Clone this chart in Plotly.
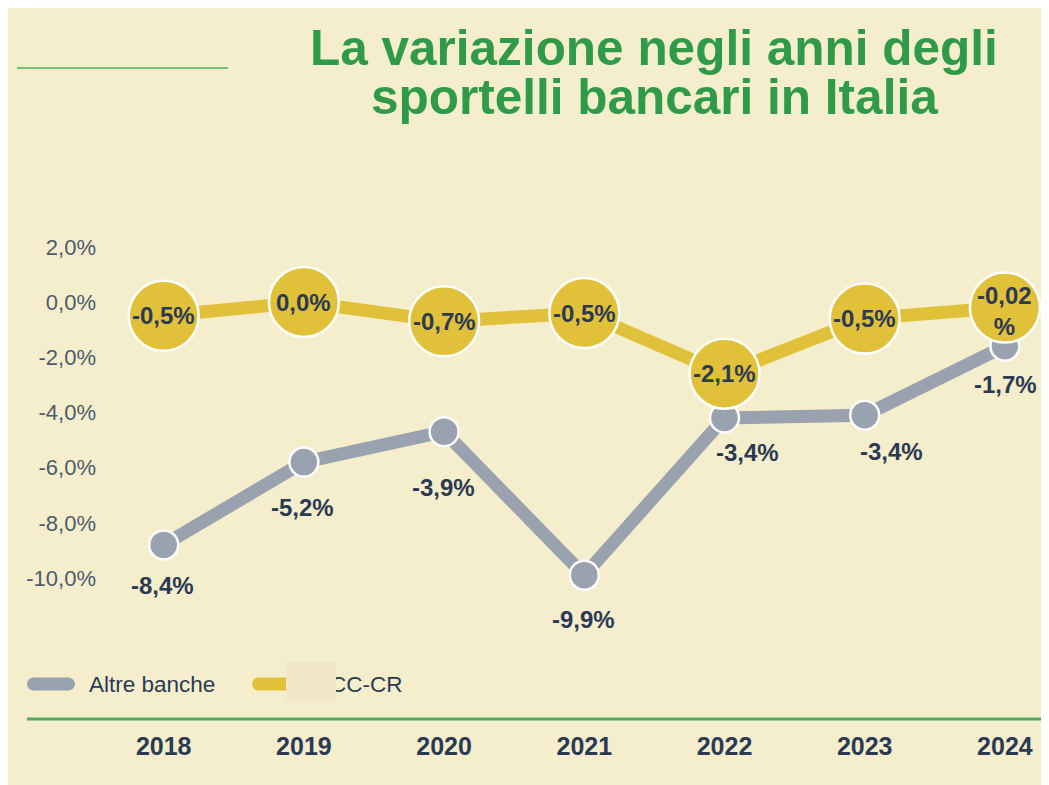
import plotly.graph_objects as go

# ---------------- data ----------------
years = ["2018", "2019", "2020", "2021", "2022", "2023", "2024"]
series_names = ["Altre banche", "BCC-CR"]
# plotted positions
altre_values = [-8.8, -5.8, -4.7, -9.9, -4.2, -4.1, -1.6]
bcc_values = [-0.5, 0.0, -0.7, -0.4, -2.6, -0.6, -0.2]
# printed data labels
altre_labels = ["-8,4%", "-5,2%", "-3,9%", "-9,9%", "-3,4%", "-3,4%", "-1,7%"]
bcc_labels = ["-0,5%", "0,0%", "-0,7%", "-0,5%", "-2,1%", "-0,5%", "-0,02%"]
y_ticks = [2, 0, -2, -4, -6, -8, -10]
title_lines = ["La variazione negli anni degli", "sportelli bancari in Italia"]

# ---------------- styling ----------------
FONT = "Liberation Sans, Arial, Helvetica, sans-serif"
CREAM = "#F5EECD"
GREEN = "#2F9A47"
NAVY = "#2B3A52"
GRAY = "#9AA1AF"
YELLOW = "#E1C03A"
# label offsets (px) for the grey series labels: (dx, dy downwards)
altre_label_offsets = [(-1, 41), (-1, 45), (-1, 56), (-1, 44), (23, 35), (27, 36), (1, 38)]

W_FIG, H_FIG = 1060, 795
OFF = 8                               # page body margin
# plot area in screenshot coordinates
L, R, T, B = 110, 1049, 200, 719
PW, PH = R - L, B - T
Y0_PX, Y_PER = 302.0, 27.6            # pixel of 0% and pixels per 1%
X0_PX, X_STEP = 163.7, 140.2          # pixel of first category and step


def px(x):
    return (x - L) / PW


def py(y):
    return (B - y) / PH


fig = go.Figure()

fig.add_trace(go.Scatter(
    x=years, y=altre_values, mode="lines+markers", name=series_names[0],
    line=dict(color=GRAY, width=13),
    marker=dict(size=29, color=GRAY, line=dict(color="white", width=2.5)),
    hoverinfo="skip", cliponaxis=False,
))
fig.add_trace(go.Scatter(
    x=years, y=bcc_values, mode="lines+markers", name=series_names[1],
    line=dict(color=YELLOW, width=13),
    marker=dict(size=70, color=YELLOW, line=dict(color="white", width=2.5)),
    hoverinfo="skip", cliponaxis=False,
))

annotations = []
# grey labels below markers
for i, (v, lab, (dx, dy)) in enumerate(zip(altre_values, altre_labels, altre_label_offsets)):
    annotations.append(dict(
        x=i, y=v, xref="x", yref="y", text=f"<b>{lab}</b>", showarrow=False,
        xshift=dx, yshift=-dy, font=dict(family=FONT, size=24, color=NAVY),
    ))
# yellow labels inside circles (long labels wrap before the % sign)
for i, (v, lab) in enumerate(zip(bcc_values, bcc_labels)):
    if len(lab) > 5:
        txt, sh = f"<b>{lab[:-1]}<br>{lab[-1:]}</b>", -3
    else:
        txt, sh = f"<b>{lab}</b>", 0
    annotations.append(dict(
        x=i, y=v, xref="x", yref="y", text=txt, showarrow=False,
        yshift=sh, font=dict(family=FONT, size=24, color=NAVY),
    ))

# title: two lines, 50 px apart
for i, line in enumerate(title_lines):
    annotations.append(dict(
        x=px(654), y=py(47 + 50 * i), xref="paper", yref="paper",
        text=f"<b>{line}</b>", showarrow=False, xanchor="center", yanchor="middle",
        font=dict(family=FONT, size=49.5, color=GREEN),
    ))

# manual legend texts
leg_y = 684
annotations.append(dict(
    x=px(87), y=py(leg_y), xref="paper", yref="paper", text=series_names[0],
    showarrow=False, xanchor="left", yanchor="middle",
    font=dict(family=FONT, size=22.5, color=NAVY),
))
annotations.append(dict(
    x=px(313), y=py(leg_y), xref="paper", yref="paper", text=series_names[1],
    showarrow=False, xanchor="left", yanchor="middle",
    font=dict(family=FONT, size=22.5, color=NAVY),
))
# patch that partially hides the second legend entry (as in the reference)
annotations.append(dict(
    x=px(286), y=py(662), xref="paper", yref="paper", text=" ",
    showarrow=False, xanchor="left", yanchor="top", width=50, height=39,
    bgcolor="#F2E8C8", borderpad=0, borderwidth=0,
    font=dict(family=FONT, size=10, color="#F2E8C8"),
))

shapes = [
    # small green rule top-left
    dict(type="line", xref="paper", yref="paper", x0=px(17), x1=px(228),
         y0=py(68), y1=py(68), line=dict(color="#74BE76", width=2)),
    # bottom green axis rule
    dict(type="line", xref="paper", yref="paper", x0=px(27), x1=px(W_FIG + 20),
         y0=py(719), y1=py(719), line=dict(color="#52A85E", width=3)),
]


def pill(x0, x1, yc, h, color):
    r = h / 2
    out = [dict(type="rect", xref="paper", yref="paper", x0=px(x0 + r), x1=px(x1 - r),
                y0=py(yc + r), y1=py(yc - r), fillcolor=color, line=dict(width=0))]
    for cx in (x0 + r, x1 - r):
        out.append(dict(type="circle", xref="paper", yref="paper", x0=px(cx - r), x1=px(cx + r),
                        y0=py(yc + r), y1=py(yc - r), fillcolor=color, line=dict(width=0)))
    return out


shapes += pill(27, 75, leg_y, 13, GRAY)
shapes += pill(252, 302, leg_y, 13, YELLOW)

fig.update_layout(
    width=W_FIG, height=H_FIG, autosize=False,
    margin=dict(l=L - OFF, r=W_FIG - (R - OFF), t=T - OFF, b=H_FIG - (B - OFF), pad=0),
    paper_bgcolor=CREAM, plot_bgcolor="rgba(0,0,0,0)",
    showlegend=False,
    font=dict(family=FONT, color=NAVY),
    xaxis=dict(
        type="category", categoryorder="array", categoryarray=years,
        range=[(L - X0_PX) / X_STEP, (R - X0_PX) / X_STEP],
        showgrid=False, zeroline=False, showline=False, ticks="",
        tickfont=dict(family=FONT, size=25, color=NAVY, weight="bold"),
        ticklabelstandoff=10, fixedrange=True,
    ),
    yaxis=dict(
        range=[(Y0_PX - B) / Y_PER, (Y0_PX - T) / Y_PER],
        tickvals=y_ticks,
        ticktext=[f"{v:.1f}%".replace(".", ",") for v in y_ticks],
        showgrid=False, zeroline=False, showline=False, ticks="",
        tickfont=dict(family=FONT, size=22, color="#4E5A6C"),
        ticklabelstandoff=13, fixedrange=True,
    ),
    annotations=annotations,
    shapes=shapes,
)

fig.write_html("out.html", post_script="document.body.style.overflow='hidden';")
